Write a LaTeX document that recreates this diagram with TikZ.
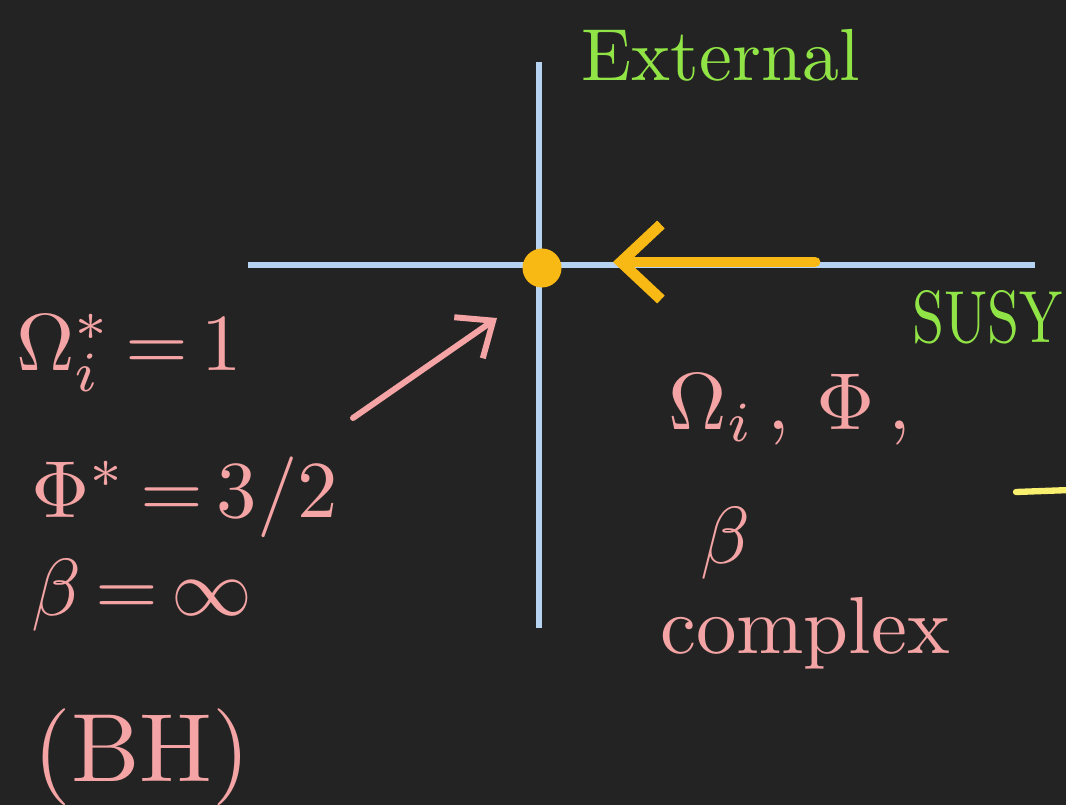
\documentclass[tikz,border=0pt]{standalone}
\usepackage{amsmath}
\usepackage{xcolor}
\usetikzlibrary{arrows.meta,positioning}
\definecolor{boardcol}{RGB}{35,35,35}
\definecolor{axiscol}{RGB}{182,212,242}
\definecolor{dotcol}{RGB}{249,185,20}
\definecolor{greencol}{RGB}{145,228,70}
\definecolor{pinkcol}{RGB}{244,164,164}
\definecolor{yellowcol}{RGB}{248,240,110}

\begin{document}
\begin{tikzpicture}[
    axis/.style={draw=axiscol, line width=1.7pt},
    chalk/.style={text=pinkcol, scale=2.3, inner sep=0pt},
    greenlbl/.style={text=greencol, scale=2.1, inner sep=0pt},
    flow/.style={-{Straight Barb[length=4mm, width=7.5mm]}, draw=dotcol, line width=3.1pt, line cap=round, line join=round},
    arr/.style={-{Straight Barb[length=3mm, width=5mm]}, draw=pinkcol, line width=1.7pt, line cap=round, line join=round},
]
\fill[boardcol] (0,0) rectangle (10.66,8.05);
\useasboundingbox (0,0) rectangle (10.66,8.05);

% axes
\coordinate (ytop) at (5.39,7.43);
\coordinate (ybot) at (5.39,1.77);
\coordinate (xleft) at (2.48,5.40);
\coordinate (xright) at (10.35,5.40);
\draw[axis] (ybot) -- (ytop);
\draw[axis] (xleft) -- (xright);

\node[greenlbl, anchor=west] (ext) at (5.80,7.50) {External};
\node[greenlbl, anchor=east, xscale=0.78] (susy) at (10.64,4.88) {SUSY};

% fixed point and flow towards it
\node[circle, fill=dotcol, minimum size=0.39cm, inner sep=0pt] (fixpt) at (5.42,5.37) {};
\coordinate (flowstart) at (8.15,5.43);
\coordinate (flowend) at (6.13,5.43);
\draw[flow] (flowstart) -- (flowend);

% left: black hole values
\node[chalk, anchor=west] (omega) at (0.15,4.52) {$\Omega_i^{*}\,{=}\,1$};
\node[chalk, anchor=west] (phi) at (0.30,3.08) {$\Phi^{*}\,{=}\,3/2$};
\node[chalk, anchor=west] (beta) at (0.30,2.10) {$\beta\,{=}\,\infty$};
\node[chalk, scale=1.2] (bh) at (1.42,0.48) {(BH)};

\coordinate (arrstart) at (3.53,3.87);
\coordinate (arrend) at (4.97,4.87);
\draw[arr] (arrstart) -- (arrend);

% right: complex chemical potentials
\node[chalk] (cplxvars) at (7.90,3.95) {$\Omega_i\,,\,\Phi\,,$};
\node[chalk] (cplxbeta) at (7.25,2.62) {$\beta$};
\node[chalk] (cplx) at (8.05,1.72) {complex};

\coordinate (ystart) at (10.16,3.13);
\coordinate (yend) at (10.70,3.15);
\draw[yellowcol, line width=1.8pt, line cap=round] (ystart) -- (yend);
\end{tikzpicture}
\end{document}
